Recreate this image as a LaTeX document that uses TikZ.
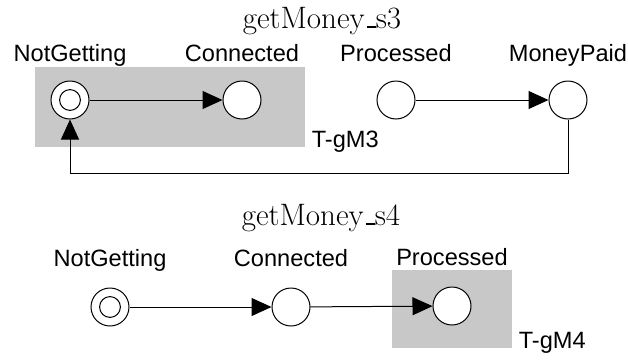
\documentclass[tikz,border=0pt]{standalone}
\usepackage{fontspec}
\newfontfamily\placefont{Liberation Sans}
\definecolor{net_shade}{RGB}{200, 200, 200}
\definecolor{net_ink}{RGB}{0, 0, 0}
\usetikzlibrary{arrows.meta, calc}
% short underscore sitting on the baseline
\newcommand\lowbar{\leavevmode\kern.06em\vbox{\hrule width.3em height 0.9pt}}

\begin{document}
\begin{tikzpicture}[
        x=0.5pt, y=-0.5pt,
        every node/.style={font=\placefont\fontsize{11.8}{14}\selectfont},
        place/.style={draw=net_ink, fill=white, circle, line width=0.5pt, inner sep=0pt, minimum size=19pt},
        firstplace/.style={place, path picture={\draw[line width=0.5pt] (path picture bounding box.center) circle (5.2pt);}},
        region/.style={fill=net_shade, inner sep=0pt},
        placename/.style={inner sep=0pt, text depth=0pt, anchor=south},
        heading/.style={font=\fontsize{15.5}{18}\selectfont, inner sep=0pt, anchor=base},
        flow/.style={net_ink, line width=0.5pt, -{Triangle[length=10pt, width=9pt]}},
      ]
        \useasboundingbox (0,0) rectangle (628,360);

        % getMoney_s3
        \node[heading] (ttl3) at (322,28) {getMoney\lowbar s3};
        \node[region, minimum width=135pt, minimum height=40pt] (gm3) at (170,107) {};
        \node[placename, anchor=base west, xshift=3pt] (lab3) at (gm3.south east) {T-gM3};
        \node[firstplace] (ng3) at (70,100)  {};
        \node[place] (cn3) at (242,100) {};
        \node[place] (pr3) at (396,100) {};
        \node[place] (mp3) at (568,100) {};
        \node[placename] (ng3l) at ($(ng3.north)+(0,-19)$) {NotGetting};
        \node[placename] (cn3l) at ($(cn3.north)+(0,-19)$) {Connected};
        \node[placename] (pr3l) at ($(pr3.north)+(0,-19)$) {Processed};
        \node[placename] (mp3l) at ($(mp3.north)+(0,-19)$) {MoneyPaid};
        \coordinate (back3) at (70,173);

        \draw[flow] (ng3) -- (cn3);
        \draw[flow] (pr3) -- (mp3);
        \draw[flow] (mp3.south) |- (back3) -- (ng3.south);

        % getMoney_s4
        \node[heading] (ttl4) at (321,225) {getMoney\lowbar s4};
        \node[region, minimum width=60pt, minimum height=39pt] (gm4) at (452,309) {};
        \node[placename, anchor=base west, xshift=3pt] (lab4) at (gm4.south east) {T-gM4};
        \node[firstplace] (ng4) at (110,307) {};
        \node[place] (cn4) at (291,307) {};
        \node[place] (pr4) at (452,306) {};
        \node[placename] (ng4l) at ($(ng4.north)+(0,-21)$) {NotGetting};
        \node[placename] (cn4l) at ($(cn4.north)+(0,-21)$) {Connected};
        \node[placename] (pr4l) at ($(pr4.north)+(0,-21)$) {Processed};

        \draw[flow] (ng4) -- (cn4);
        \draw[flow] (cn4) -- (pr4);
      \end{tikzpicture}
\end{document}
